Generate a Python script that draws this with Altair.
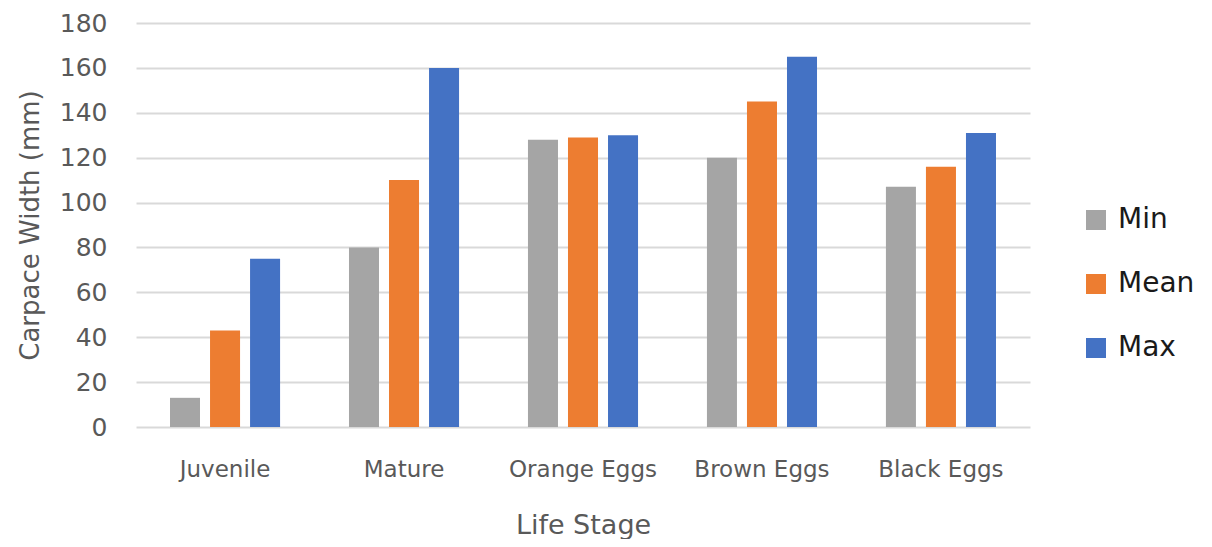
import altair as alt
import pandas as pd

stages = ["Juvenile", "Mature", "Orange Eggs", "Brown Eggs", "Black Eggs"]
series = ["Min", "Mean", "Max"]
min_vals = [13, 80, 128, 120, 107]
mean_vals = [43, 110, 129, 145, 116]
max_vals = [75, 160, 130, 165, 131]
colors = ["#A5A5A5", "#ED7D31", "#4472C4"]

rows = []
for s, mn, me, mx in zip(stages, min_vals, mean_vals, max_vals):
    rows.append({"stage": s, "series": "Min", "value": mn})
    rows.append({"stage": s, "series": "Mean", "value": me})
    rows.append({"stage": s, "series": "Max", "value": mx})
df = pd.DataFrame(rows)

font = "DejaVu Sans"

chart = alt.Chart(df).mark_bar().encode(
    x=alt.X("stage:N", sort=stages,
            scale=alt.Scale(paddingInner=0.385, paddingOuter=0.19),
            axis=alt.Axis(title="Life Stage", labelAngle=0, labelFontSize=23,
                          labelColor="#595959", labelFont=font, labelPadding=31,
                          titleFontSize=27, titleFont=font, titleColor="#595959",
                          titleFontWeight="normal", titlePadding=31,
                          domain=False, ticks=False, grid=False)),
    xOffset=alt.XOffset("series:N", sort=series,
                        scale=alt.Scale(paddingInner=0.25, paddingOuter=0)),
    y=alt.Y("value:Q",
            scale=alt.Scale(domain=[0, 180], nice=False),
            axis=alt.Axis(title="Carpace Width (mm)", values=list(range(0, 181, 20)),
                          labelFontSize=25, labelColor="#595959", labelFont=font,
                          labelPadding=29, titleFontSize=26, titleFont=font,
                          titleColor="#595959", titleFontWeight="normal",
                          titlePadding=16, domain=False, ticks=False,
                          grid=True, gridColor="#D9D9D9", gridWidth=2)),
    color=alt.Color("series:N", sort=series,
                    scale=alt.Scale(domain=series, range=colors),
                    legend=alt.Legend(title=None, orient="none", legendX=946, legendY=183,
                                      symbolType="square", symbolSize=400,
                                      symbolStrokeWidth=0, labelFontSize=28,
                                      labelFont=font, labelColor="#1a1a1a",
                                      rowPadding=36, labelOffset=8, padding=0)),
).properties(
    width=894, height=404,
    autosize="none",
    background="white",
    padding={"left": 128, "top": 15, "right": 174, "bottom": 112},
).configure_view(stroke=None)

chart.save("out.html", embed_options={"renderer": "svg", "actions": False})
